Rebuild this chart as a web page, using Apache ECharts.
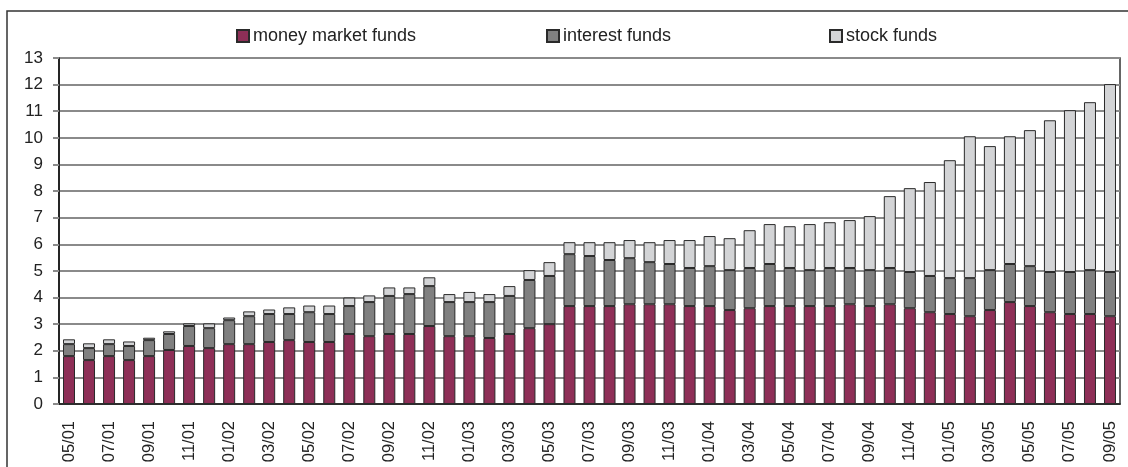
<!DOCTYPE html>
<html>
<head>
<meta charset="utf-8">
<script src="https://cdn.jsdelivr.net/npm/echarts@6/dist/echarts.min.js"></script>
<style>
  html, body { margin: 0; padding: 0; background: #ffffff; }
  #chart { width: 1128px; height: 467px; }
</style>
</head>
<body>
<div id="chart"></div>
<script>
// Monthly fund volumes, stacked by fund type (05/2001 – 09/2005)
const months = [
  '05/01','06/01','07/01','08/01','09/01','10/01','11/01','12/01',
  '01/02','02/02','03/02','04/02','05/02','06/02','07/02','08/02','09/02','10/02','11/02','12/02',
  '01/03','02/03','03/03','04/03','05/03','06/03','07/03','08/03','09/03','10/03','11/03','12/03',
  '01/04','02/04','03/04','04/04','05/04','06/04','07/04','08/04','09/04','10/04','11/04','12/04',
  '01/05','02/05','03/05','04/05','05/05','06/05','07/05','08/05','09/05'
];

const moneyMarket = [
  1.80, 1.65, 1.80, 1.65, 1.80, 2.03, 2.18, 2.10,
  2.25, 2.25, 2.33, 2.40, 2.33, 2.33, 2.63, 2.55, 2.63, 2.63, 2.93, 2.55,
  2.55, 2.48, 2.63, 2.85, 3.00, 3.68, 3.68, 3.68, 3.75, 3.75, 3.75, 3.68,
  3.68, 3.53, 3.60, 3.68, 3.68, 3.68, 3.68, 3.75, 3.68, 3.75, 3.60, 3.45,
  3.38, 3.30, 3.53, 3.83, 3.68, 3.45, 3.38, 3.38, 3.30
];

const interest = [
  0.45, 0.45, 0.45, 0.53, 0.60, 0.60, 0.75, 0.75,
  0.90, 1.05, 1.05, 0.98, 1.12, 1.05, 1.05, 1.28, 1.43, 1.50, 1.50, 1.28,
  1.28, 1.35, 1.43, 1.81, 1.81, 1.95, 1.88, 1.73, 1.73, 1.58, 1.51, 1.43,
  1.50, 1.50, 1.51, 1.58, 1.43, 1.35, 1.43, 1.36, 1.35, 1.36, 1.36, 1.36,
  1.35, 1.43, 1.50, 1.43, 1.50, 1.51, 1.58, 1.65, 1.66
];

const stock = [
  0.18, 0.18, 0.18, 0.17, 0.09, 0.10, 0.10, 0.18,
  0.10, 0.18, 0.17, 0.25, 0.25, 0.32, 0.32, 0.25, 0.32, 0.25, 0.33, 0.30,
  0.38, 0.30, 0.37, 0.37, 0.52, 0.45, 0.52, 0.67, 0.68, 0.75, 0.90, 1.05,
  1.13, 1.20, 1.42, 1.50, 1.57, 1.73, 1.72, 1.80, 2.03, 2.70, 3.15, 3.53,
  4.43, 5.33, 4.66, 4.80, 5.11, 5.70, 6.08, 6.31, 7.06
];

const yTicks = { min: 0, max: 13, step: 1 };

const seriesNames = ['money market funds', 'interest funds', 'stock funds'];
const seriesColors = ['#8e2f57', '#808080', '#d3d4d6'];
const seriesData = [moneyMarket, interest, stock];

const textColor = '#222222';
const font = 'Liberation Sans, Arial, sans-serif';

const chart = echarts.init(document.getElementById('chart'), null, { renderer: 'canvas' });

function legendFor(name, left) {
  return {
    data: [name],
    left: left,
    top: 22,
    icon: 'rect',
    itemWidth: 12,
    itemHeight: 12,
    itemGap: 4,
    selectedMode: false,
    textStyle: { color: textColor, fontSize: 18, fontFamily: font, padding: [0, 0, 0, -1] }
  };
}

chart.setOption({
  animation: false,
  backgroundColor: '#ffffff',
  graphic: [{
    type: 'rect',
    shape: { x: 7, y: 11, width: 1140, height: 480 },
    style: { fill: 'none', stroke: '#333333', lineWidth: 1.5 },
    silent: true
  }],
  legend: [
    legendFor(seriesNames[0], 231),
    legendFor(seriesNames[1], 541),
    legendFor(seriesNames[2], 824)
  ],
  grid: {
    left: 59, right: 8, top: 58, bottom: 63,
    show: true, borderColor: '#333333', borderWidth: 1.5,
    containLabel: false
  },
  xAxis: {
    type: 'category',
    data: months,
    boundaryGap: true,
    axisLine: { lineStyle: { color: '#111111', width: 1.5 } },
    axisTick: { interval: 1, length: 6, lineStyle: { color: '#111111', width: 1 } },
    axisLabel: {
      interval: 1, rotate: 90, margin: 17,
      color: textColor, fontSize: 16.5, fontFamily: font
    },
    splitLine: { show: false }
  },
  yAxis: {
    type: 'value',
    min: yTicks.min, max: yTicks.max, interval: yTicks.step,
    axisLine: { show: true, lineStyle: { color: '#111111', width: 1.5 } },
    axisTick: { show: true, length: 6, lineStyle: { color: '#8a8a8a', width: 2 } },
    axisLabel: { margin: 16, color: textColor, fontSize: 17, fontFamily: font },
    splitLine: { lineStyle: { color: '#8a8a8a', width: 2 } }
  },
  series: seriesNames.map((name, i) => ({
    name: name,
    type: 'bar',
    stack: 'funds',
    data: seriesData[i],
    barWidth: 12,
    itemStyle: { color: seriesColors[i], borderColor: '#2a2a2a', borderWidth: 1 },
    emphasis: { disabled: true }
  }))
});
</script>
</body>
</html>
